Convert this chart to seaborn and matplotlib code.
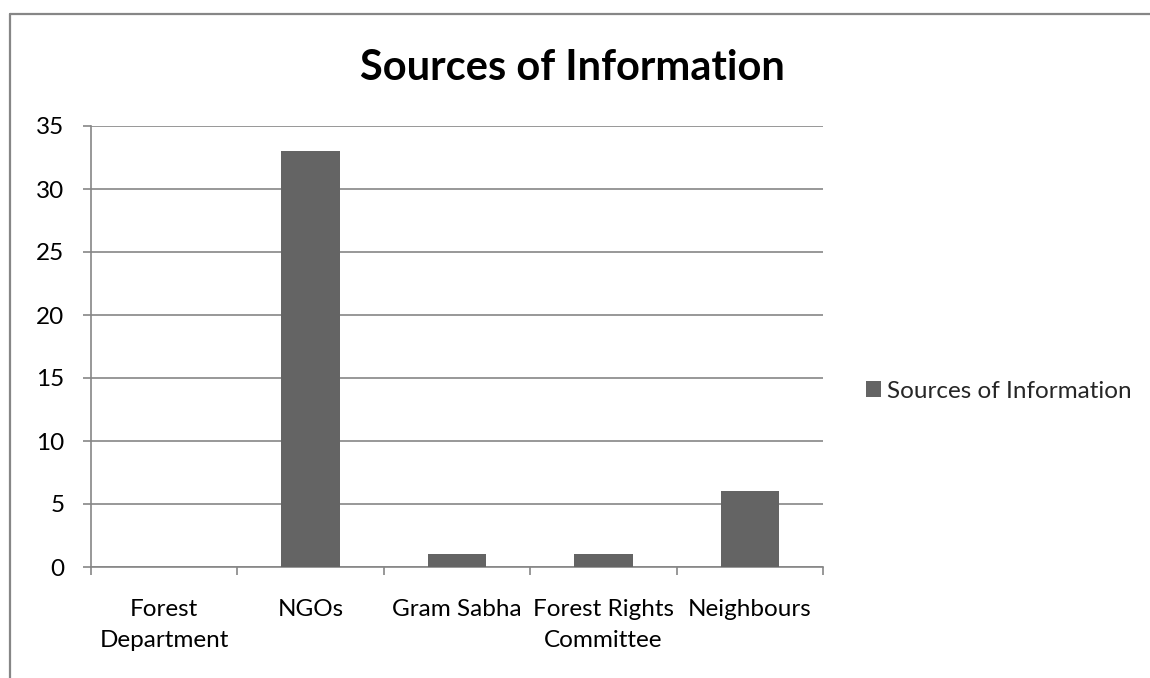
import matplotlib
matplotlib.use("Agg")
import matplotlib.pyplot as plt
import seaborn as sns
import pandas as pd
from matplotlib.lines import Line2D
from matplotlib.patches import Patch

categories = ["Forest\nDepartment", "NGOs", "Gram Sabha", "Forest Rights\nCommittee", "Neighbours"]
values = [0, 33, 1, 1, 6]
series_name = "Sources of Information"
yticks = [0, 5, 10, 15, 20, 25, 30, 35]

sns.set_theme(style="white")
plt.rcParams["font.family"] = ["Lato", "DejaVu Sans"]

W, H = 1150, 678
fig = plt.figure(figsize=(W / 100, H / 100), dpi=100)
fig.patch.set_facecolor("white")

ax = fig.add_axes([91 / W, 1 - 567 / H, (823 - 91) / W, (567 - 126) / H])
df = pd.DataFrame({"cat": categories, "val": values})
sns.barplot(data=df, x="cat", y="val", color="#646464", width=0.4, ax=ax,
            saturation=1, zorder=3, linewidth=0)

grey = "#868686"
fs = 17.5
ax.set_xlim(-0.5, len(categories) - 0.5)
ax.set_ylim(0, 35)
ax.set_yticks(yticks)
ax.set_yticklabels([str(t) for t in yticks], fontsize=fs, color="black")
ax.yaxis.grid(True, color=grey, linewidth=1.2, zorder=0)
ax.xaxis.grid(False)
ax.set_xlabel("")
ax.set_ylabel("")

# category boundaries as major ticks, labels on minor ticks
ax.set_xticks([i - 0.5 for i in range(len(categories) + 1)])
ax.set_xticklabels([""] * (len(categories) + 1))
ax.set_xticks(range(len(categories)), minor=True)
ax.set_xticklabels(categories, minor=True, fontsize=fs, color="black", linespacing=1.6)
ax.tick_params(axis="x", which="major", length=6, width=1.2, color=grey, direction="out", bottom=True)
ax.tick_params(axis="x", which="minor", length=0, pad=23)
ax.tick_params(axis="y", which="major", length=6, width=1.2, color=grey, direction="out", left=True, pad=13)

for s in ["top", "right"]:
    ax.spines[s].set_visible(False)
for s in ["left", "bottom"]:
    ax.spines[s].set_color(grey)
    ax.spines[s].set_linewidth(1.2)

fig.text(572 / W, 1 - 68 / H, "Sources of Information", ha="center", va="center",
         fontsize=30, fontweight="bold", color="black")

handles = [Patch(facecolor="#646464", edgecolor="none")]
leg = fig.legend(handles, [series_name], loc="center left",
                 bbox_to_anchor=(866 / W, 1 - 391 / H), frameon=False,
                 borderpad=0, borderaxespad=0,
                 fontsize=fs, handlelength=0.62, handleheight=0.62, handletextpad=0.25)

# outer chart border (top and left visible)
lw = 1.6
fig.add_artist(Line2D([10 / W, 10 / W], [0, 1 - 14 / H], transform=fig.transFigure,
                      color=grey, linewidth=lw))
fig.add_artist(Line2D([10 / W, 1], [1 - 14 / H, 1 - 14 / H], transform=fig.transFigure,
                      color=grey, linewidth=lw))

fig.savefig("out.png", dpi=100, facecolor="white")
